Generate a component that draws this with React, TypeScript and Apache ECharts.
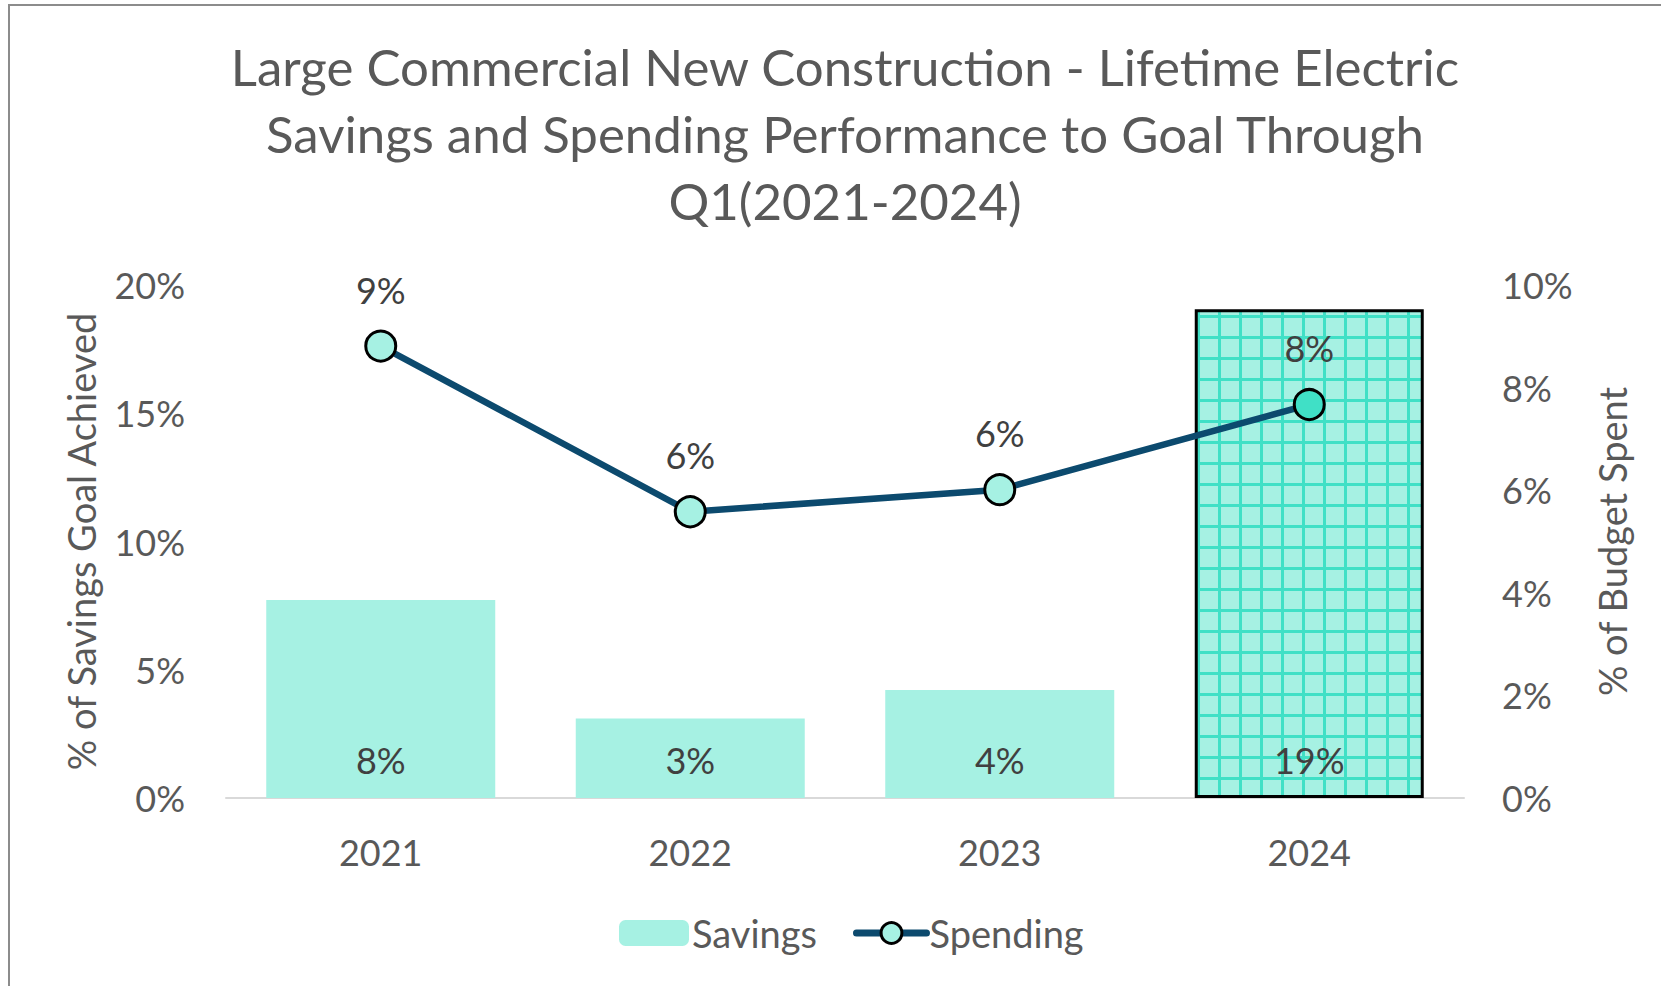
import React, { useEffect, useRef } from "react";
import * as echarts from "echarts";

const titleLines = [
  "Large Commercial New Construction - Lifetime Electric",
  "Savings and Spending Performance to Goal Through",
  "Q1(2021-2024)",
];
const categories = ["2021", "2022", "2023", "2024"];
const savingsPct = [7.72, 3.1, 4.21, 19.05];
const spendingPct = [8.81, 5.58, 6.01, 7.67];
const leftTicks = [0, 5, 10, 15, 20];
const rightTicks = [0, 2, 4, 6, 8, 10];
const seriesNames = ["Savings", "Spending"];
const axisNames = ["% of Savings Goal Achieved", "% of Budget Spent"];

const FONT = "Lato";
const BAR = "#a6f1e3";
const GRIDLINE = "#40e0c6";
const NAVY = "#0c4a6e";
const TXT = "#595959";
const LBL = "#404040";

function makePattern(): string {
  const s = 21;
  const c = document.createElement("canvas");
  c.width = s;
  c.height = s;
  const ctx = c.getContext("2d")!;
  ctx.fillStyle = BAR;
  ctx.fillRect(0, 0, s, s);
  ctx.fillStyle = GRIDLINE;
  ctx.fillRect(0, 0, s, 3);
  ctx.fillRect(0, 0, 3, s);
  return c.toDataURL();
}

export default function App() {
  const ref = useRef<HTMLDivElement>(null);
  useEffect(() => {
    if (!ref.current) return;
    const chart = echarts.init(ref.current, null, { renderer: "svg" });
    const pattern = makePattern();
    const lastIdx = categories.length - 1;
    chart.setOption({
      animation: false,
      textStyle: { fontFamily: FONT },
      title: {
        text: titleLines.join("\n"),
        left: 840,
        top: 28,
        textAlign: "center",
        textStyle: {
          fontFamily: FONT,
          fontSize: 51,
          fontWeight: "normal",
          color: TXT,
          lineHeight: 67,
        },
      },
      grid: { left: 226, right: 197, top: 285, bottom: 188 },
      legend: {
        data: [
          { name: seriesNames[0] },
          { name: seriesNames[1], lineStyle: { width: 7, cap: "round" }, itemStyle: { borderWidth: 3 } },
        ],
        left: 614,
        top: 909,
        itemWidth: 70,
        itemHeight: 26,
        itemGap: 36,
        textStyle: { fontFamily: FONT, fontSize: 38, color: TXT, padding: [0, 0, 0, -2] },
      },
      xAxis: {
        type: "category",
        data: categories,
        axisLine: { lineStyle: { color: "#d9d9d9", width: 2 } },
        axisTick: { show: false },
        axisLabel: { fontFamily: FONT, fontSize: 36, color: TXT, margin: 36 },
      },
      yAxis: [
        {
          type: "value",
          min: leftTicks[0],
          max: leftTicks[leftTicks.length - 1],
          interval: leftTicks[1] - leftTicks[0],
          name: axisNames[0],
          nameLocation: "middle",
          nameGap: 126,
          nameTextStyle: { fontFamily: FONT, fontSize: 38, color: TXT },
          axisLine: { show: false },
          axisTick: { show: false },
          splitLine: { show: false },
          axisLabel: { fontFamily: FONT, fontSize: 36, color: TXT, margin: 41, formatter: "{value}%" },
        },
        {
          type: "value",
          min: rightTicks[0],
          max: rightTicks[rightTicks.length - 1],
          interval: rightTicks[1] - rightTicks[0],
          name: axisNames[1],
          nameLocation: "middle",
          nameGap: 129,
          nameTextStyle: { fontFamily: FONT, fontSize: 38, color: TXT },
          axisLine: { show: false },
          axisTick: { show: false },
          splitLine: { show: false },
          axisLabel: { fontFamily: FONT, fontSize: 36, color: TXT, margin: 38, formatter: "{value}%" },
        },
      ],
      series: [
        {
          name: seriesNames[0],
          type: "bar",
          yAxisIndex: 0,
          barWidth: 229,
          itemStyle: { color: BAR },
          data: savingsPct.map((v, i) =>
            i === lastIdx
              ? {
                  value: v,
                  itemStyle: {
                    color: { image: pattern, repeat: "repeat", imageWidth: 21, imageHeight: 21 },
                    borderColor: "#000000",
                    borderWidth: 3,
                  },
                }
              : v
          ),
          label: {
            show: true,
            position: "insideBottom",
            distance: 20,
            fontFamily: FONT,
            fontSize: 36,
            color: LBL,
            formatter: (p: any) => Math.round(p.value) + "%",
          },
        },
        {
          name: seriesNames[1],
          type: "line",
          yAxisIndex: 1,
          symbol: "circle",
          symbolSize: 30,
          z: 5,
          lineStyle: { color: NAVY, width: 6.5 },
          itemStyle: { color: BAR, borderColor: "#000000", borderWidth: 3 },
          data: spendingPct.map((v, i) =>
            i === lastIdx ? { value: v, itemStyle: { color: GRIDLINE } } : v
          ),
          label: {
            show: true,
            position: "top",
            distance: 22,
            fontFamily: FONT,
            fontSize: 36,
            color: LBL,
            formatter: (p: any) => Math.round(p.value) + "%",
          },
        },
      ],
    });
    return () => chart.dispose();
  }, []);

  return (
    <div style={{ position: "absolute", left: 0, top: 0, width: 1661, height: 986, background: "#ffffff" }}>
      <div
        style={{
          position: "absolute",
          left: 8,
          top: 4,
          right: 0,
          bottom: 0,
          borderLeft: "2px solid #8c8c8c",
          borderTop: "2px solid #8c8c8c",
        }}
      />
      <div ref={ref} style={{ position: "absolute", left: 0, top: 0, width: 1661, height: 986 }} />
    </div>
  );
}
